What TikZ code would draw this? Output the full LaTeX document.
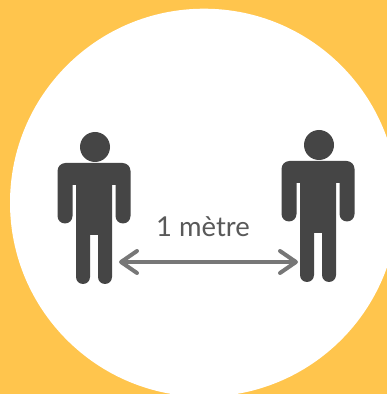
\documentclass[tikz,border=0pt]{standalone}
\usepackage{fontspec}
\setmainfont{Lato}
\usetikzlibrary{arrows.meta}
\definecolor{bgyellow}{HTML}{FFC54D}
\definecolor{bodygray}{HTML}{454545}
\definecolor{arrowgray}{HTML}{777777}
\definecolor{textgray}{HTML}{595959}
\tikzset{
  person/.pic={
    \fill[bodygray] (1,0) circle[radius=15];
    \fill[bodygray] (-18,-38) -- (-18,-130) arc[start angle=180, end angle=360, radius=7]
      -- (-4,-88) -- (4,-88) -- (4,-130) arc[start angle=180, end angle=360, radius=7]
      -- (18,-38) -- (21.5,-38) -- (21.5,-69) arc[start angle=180, end angle=360, radius=7.5]
      -- (36.5,-24) arc[start angle=0, end angle=90, radius=8]
      -- (-28.5,-16) arc[start angle=90, end angle=180, radius=8]
      -- (-36.5,-69) arc[start angle=180, end angle=360, radius=7.5]
      -- (-21.5,-38) -- cycle;
  },
  gap/.style={draw=arrowgray, line width=4pt, line cap=round, line join=round,
              {Straight Barb[length=16pt, width=22pt, round]}-{Straight Barb[length=16pt, width=22pt, round]}},
  lbl/.style={text=textgray, font=\fontsize{27.4}{30}\selectfont, inner sep=0pt, anchor=base},
}
\begin{document}
\begin{tikzpicture}[x=1pt, y=1pt]
  \useasboundingbox (0,0) rectangle (387,394);
  \fill[bgyellow] (0,0) rectangle (387,394);
  \clip (0,0) rectangle (387,394);
  \fill[white] (204,191.3) circle[radius=194];

  % ---- the two people
  \pic at (94,247) {person};
  \pic at (318,249) {person};

  % ---- distance
  \coordinate (leftend) at (119,132);
  \coordinate (rightend) at (298,132);
  \draw[gap] (leftend) -- (rightend);
  \node[lbl] (dist) at (203,157) {1 mètre};
\end{tikzpicture}
\end{document}
